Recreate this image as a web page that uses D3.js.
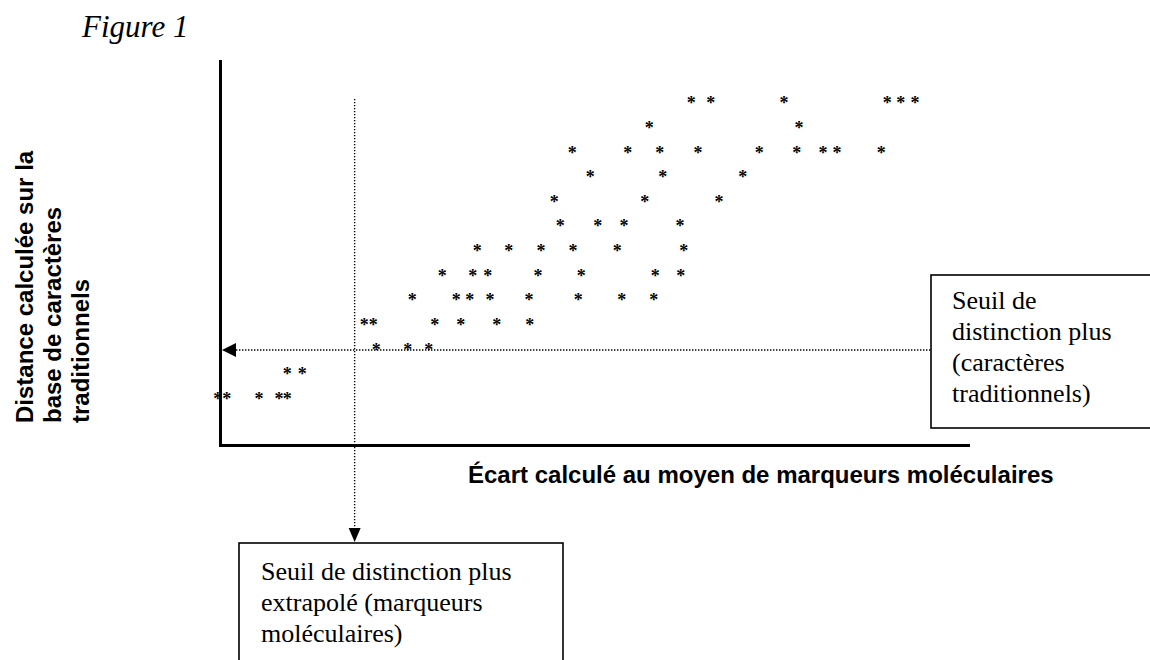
<!DOCTYPE html>
<html lang="fr">
<head>
<meta charset="utf-8">
<title>Figure 1</title>
<script src="https://cdn.jsdelivr.net/npm/d3@7"></script>
<style>
    body { margin: 0; background: #ffffff; }
    svg { display: block; }
</style>
</head>
<body>
<div id="chart"></div>
<script>
// Star rows: level on the vertical scale, then the positions of each star in that row
const rowLevels = [14, 13, 12, 11, 10, 9, 8, 7, 6, 5, 4, 3, 2];
const rowPositions = [
    [63.0, 65.6, 75.4, 89.2, 91.0, 92.9],
    [57.4, 77.4],
    [47.1, 54.5, 58.8, 63.9, 72.1, 77.1, 80.6, 82.5, 88.4],
    [49.5, 59.2, 69.9],
    [44.7, 56.8, 66.7],
    [45.5, 50.5, 54.0, 61.5],
    [34.4, 38.6, 42.9, 47.2, 53.1, 62.0],
    [29.7, 33.8, 35.8, 42.5, 48.3, 58.2, 61.6],
    [25.7, 31.6, 33.4, 36.1, 41.3, 47.9, 53.7, 58.0],
    [19.3, 20.5, 28.7, 32.2, 37.0, 41.4],
    [20.9, 25.1, 27.9],
    [9.0, 11.0],
    [-0.3, 0.9, 5.2, 7.9, 9.0]
];

const xDomain = [0, 100];
const yDomain = [0, 15.6];

// distinction thresholds
const thresholdX = 18;     // extrapolé (marqueurs moléculaires)
const thresholdY = 3.86;   // caractères traditionnels

// texts
const figureTitle = 'Figure 1';
const xTitle = 'Écart calculé au moyen de marqueurs moléculaires';
const yTitleLines = ['Distance calculée sur la', 'base de caractères', 'traditionnels'];
const rightBoxLines = ['Seuil de', 'distinction plus', '(caractères', 'traditionnels)'];
const bottomBoxLines = ['Seuil de distinction plus', 'extrapolé (marqueurs', 'moléculaires)'];

const W = 1150, H = 660;
const margin = { top: 61, right: 182, bottom: 215, left: 220 };
const width = W - margin.left - margin.right;
const height = H - margin.top - margin.bottom;

const serif = '"Liberation Serif", "Times New Roman", serif';
const sans = '"Liberation Sans", Arial, sans-serif';

const svg = d3.select('#chart')
    .append('svg')
    .attr('width', W)
    .attr('height', H)
    .style('background', '#ffffff');

const g = svg.append('g')
    .attr('transform', `translate(${margin.left},${margin.top})`);

const x = d3.scaleLinear().domain(xDomain).range([0, width]);
const y = d3.scaleLinear().domain(yDomain).range([height, 0]);

// Title
svg.append('text')
    .attr('x', 82)
    .attr('y', 37)
    .attr('font-family', serif)
    .attr('font-style', 'italic')
    .attr('font-size', '31px')
    .attr('fill', '#000')
    .text(figureTitle);

// Dotted threshold lines + arrows
const dotted = g.append('g').attr('class', 'thresholds')
    .attr('stroke', '#000')
    .attr('stroke-width', 1.4)
    .attr('stroke-dasharray', '1.4,1.6');

const hy = y(thresholdY);
const arrowLen = 14, arrowHalf = 7;
const rightBox = { x: 931, y: 275, w: 240, h: 153 };
const bottomBox = { x: 239, y: 543, w: 324, h: 130 };

dotted.append('line')
    .attr('x1', x(0) + 2 + arrowLen)
    .attr('x2', rightBox.x - margin.left)
    .attr('y1', hy)
    .attr('y2', hy);

const vx = x(thresholdX);
dotted.append('line')
    .attr('x1', vx)
    .attr('x2', vx)
    .attr('y1', y(rowLevels[0]) - 1.5)
    .attr('y2', bottomBox.y - margin.top - 1 - arrowLen);

// arrow heads
g.append('path')
    .attr('d', `M${x(0) + 2},${hy}L${x(0) + 2 + arrowLen},${hy - arrowHalf}L${x(0) + 2 + arrowLen},${hy + arrowHalf}Z`)
    .attr('fill', '#000');

const tipY = bottomBox.y - margin.top - 1;
g.append('path')
    .attr('d', `M${vx},${tipY}L${vx - 6},${tipY - arrowLen}L${vx + 6},${tipY - arrowLen}Z`)
    .attr('fill', '#000');

// Axes (plain lines, no ticks)
const xAxis = g.append('g')
    .attr('transform', `translate(0,${height})`)
    .call(d3.axisBottom(x).tickValues([]).tickSizeOuter(0));
const yAxis = g.append('g')
    .call(d3.axisLeft(y).tickValues([]).tickSizeOuter(0));
[xAxis, yAxis].forEach(ax => ax.select('.domain')
    .attr('stroke', '#000')
    .attr('stroke-width', 3)
    .attr('stroke-linecap', 'square'));

// Stars: typed asterisks, one per observation
const stars = rowLevels.flatMap((lv, i) => rowPositions[i].map(p => ({ x: p, y: lv })));
g.append('g').attr('class', 'stars')
    .style('opacity', 0.99)
    .selectAll('text')
    .data(stars)
    .enter()
    .append('text')
    .attr('x', d => x(d.x))
    .attr('y', d => y(d.y))
    .attr('dy', '0.5em')
    .attr('text-anchor', 'middle')
    .attr('font-family', serif)
    .attr('font-weight', 'bold')
    .attr('font-size', '18px')
    .attr('fill', '#000')
    .text('*');

// Axis titles
svg.append('text')
    .attr('x', 468)
    .attr('y', 483)
    .attr('font-family', sans)
    .attr('font-weight', 'bold')
    .attr('font-size', '24px')
    .attr('fill', '#000')
    .text(xTitle);

const yTitle = svg.append('text')
    .attr('transform', 'translate(33,423) rotate(-90)')
    .attr('font-family', sans)
    .attr('font-weight', 'bold')
    .attr('font-size', '24px')
    .attr('fill', '#000');
yTitleLines.forEach((line, i) => {
    yTitle.append('tspan')
        .attr('x', 0)
        .attr('y', i * 28)
        .text(line);
});

// Annotation boxes
function addBox(box, lines, tx, ty) {
    svg.append('rect')
        .attr('x', box.x)
        .attr('y', box.y)
        .attr('width', box.w)
        .attr('height', box.h)
        .attr('fill', '#fff')
        .attr('stroke', '#000')
        .attr('stroke-width', 1.6);
    const t = svg.append('text')
        .attr('font-family', serif)
        .attr('font-size', '26px')
        .attr('fill', '#000');
    lines.forEach((line, i) => {
        t.append('tspan')
            .attr('x', tx)
            .attr('y', ty + i * 31)
            .text(line);
    });
}

addBox(rightBox, rightBoxLines, 952, 309);
addBox(bottomBox, bottomBoxLines, 261, 580);
</script>
</body>
</html>
